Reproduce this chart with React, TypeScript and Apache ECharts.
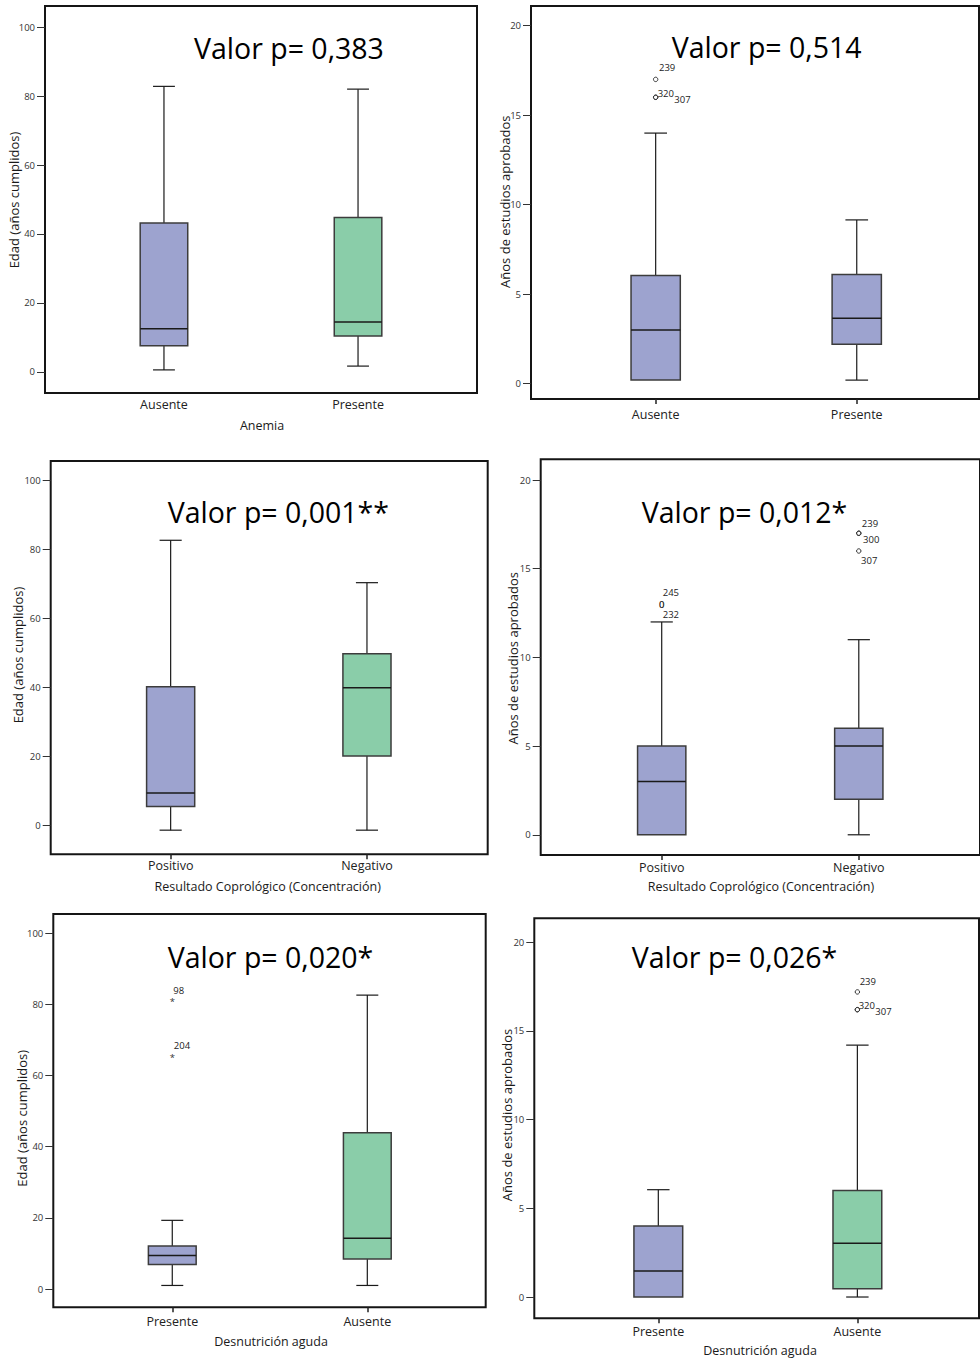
import React, { useEffect, useRef } from "react";
import * as echarts from "echarts";

const FONT = '"Open Sans", "DejaVu Sans", sans-serif';
const BLUE = "#9da3cf";
const GREEN = "#8acda9";

// ---- categories ----
const catsAnemia = ["Ausente", "Presente"];
const catsCopro = ["Positivo", "Negativo"];
const catsDesnut = ["Presente", "Ausente"];

// ---- y tick values ----
const ticksEdad = [0, 20, 40, 60, 80, 100];
const ticksAnios = [0, 5, 10, 15, 20];

// ---- box statistics: [min, Q1, median, Q3, max] per category ----
const edadAnemia = [
  [0.6, 7.6, 12.5, 43.2, 82.8],
  [1.7, 10.4, 14.5, 44.8, 82.0],
];
const aniosAnemia = [
  [0.2, 0.2, 3.0, 6.05, 14.0],
  [0.2, 2.2, 3.65, 6.1, 9.15],
];
const edadCopro = [
  [-1.5, 5.4, 9.3, 40.1, 82.6],
  [-1.5, 20.0, 39.8, 49.7, 70.3],
];
const aniosCopro = [
  [0, 0, 3.0, 5.0, 12.0],
  [0, 2.0, 5.0, 6.0, 11.0],
];
const edadDesnut = [
  [1.0, 6.9, 9.4, 12.1, 19.3],
  [1.0, 8.4, 14.25, 43.9, 82.6],
];
const aniosDesnut = [
  [0, 0, 1.47, 4.0, 6.05],
  [0, 0.47, 3.03, 6.0, 14.2],
];

// ---- outliers: [category index, value] with case ids and marker glyphs ----
const aniosAnemiaOut = [[0, 17], [0, 16], [0, 16]];
const aniosAnemiaOutIds = ["239", "320", "307"];
const aniosAnemiaOutMark = ["o", "o", "o"];

const aniosCoproOut = [[0, 13], [0, 13], [1, 17], [1, 17], [1, 16]];
const aniosCoproOutIds = ["245", "232", "239", "300", "307"];
const aniosCoproOutMark = ["0", "0", "o", "o", "o"];

const edadDesnutOut = [[0, 81.4], [0, 65.7]];
const edadDesnutOutIds = ["98", "204"];
const edadDesnutOutMark = ["*", "*"];

const aniosDesnutOut = [[1, 17.2], [1, 16.2], [1, 16.2]];
const aniosDesnutOutIds = ["239", "320", "307"];
const aniosDesnutOutMark = ["o", "o", "o"];

// ---- panel layout (positions / styles) ----
type Panel = {
  title: string;
  cats: string[];
  stats: number[][];
  ticks: number[];
  yName: string;
  xName: string | null;
  out: number[][];
  outIds: string[];
  outMark: string[];
  labelOff: number[][];
  colors: string[];
  frame: number[]; // left, top, right, bottom
  yRange: number[];
  xRange: number[];
  titleXY: number[];
  yNameXY: number[];
  xNameXY: number[] | null;
  labelMargin: number;
  xTicks: boolean;
};

const panels: Panel[] = [
  {
    title: "Valor p= 0,383", cats: catsAnemia, stats: edadAnemia, ticks: ticksEdad,
    yName: "Edad (años cumplidos)", xName: "Anemia",
    out: [], outIds: [], outMark: [], labelOff: [],
    colors: [BLUE, GREEN],
    frame: [45, 6, 477, 393], yRange: [-6.1, 106.1], xRange: [-0.613, 1.613],
    titleXY: [194, 48], yNameXY: [14, 200], xNameXY: [262, 425], labelMargin: 5, xTicks: false,
  },
  {
    title: "Valor p= 0,514", cats: catsAnemia, stats: aniosAnemia, ticks: ticksAnios,
    yName: "Años de estudios aprobados", xName: null,
    out: aniosAnemiaOut, outIds: aniosAnemiaOutIds, outMark: aniosAnemiaOutMark,
    labelOff: [[3.3, -12.3], [2, -4], [18.7, 2.6]],
    colors: [BLUE, BLUE],
    frame: [531, 6, 979, 399], yRange: [-0.855, 21.1], xRange: [-0.62, 1.608],
    titleXY: [671.7, 46.7], yNameXY: [505, 201.7], xNameXY: null, labelMargin: 8.5, xTicks: true,
  },
  {
    title: "Valor p= 0,001**", cats: catsCopro, stats: edadCopro, ticks: ticksEdad,
    yName: "Edad (años cumplidos)", xName: "Resultado Coprológico (Concentración)",
    out: [], outIds: [], outMark: [], labelOff: [],
    colors: [BLUE, GREEN],
    frame: [50.7, 461, 487.7, 854.3], yRange: [-8.5, 105.6], xRange: [-0.611, 1.615],
    titleXY: [167.7, 511.7], yNameXY: [18.3, 655], xNameXY: [267.7, 886.7], labelMargin: 4.5, xTicks: true,
  },
  {
    title: "Valor p= 0,012*", cats: catsCopro, stats: aniosCopro, ticks: ticksAnios,
    yName: "Años de estudios aprobados", xName: "Resultado Coprológico (Concentración)",
    out: aniosCoproOut, outIds: aniosCoproOutIds, outMark: aniosCoproOutMark,
    labelOff: [[1, -11.6], [1, 10], [3, -9.4], [4.3, 6.6], [2.3, 10]],
    colors: [BLUE, BLUE],
    frame: [540.7, 459.3, 982, 855], yRange: [-1.14, 21.17], xRange: [-0.614, 1.615],
    titleXY: [641.7, 511.7], yNameXY: [512.7, 658.3], xNameXY: [761, 886.7], labelMargin: 5.5, xTicks: true,
  },
  {
    title: "Valor p= 0,020*", cats: catsDesnut, stats: edadDesnut, ticks: ticksEdad,
    yName: "Edad (años cumplidos)", xName: "Desnutrición aguda",
    out: edadDesnutOut, outIds: edadDesnutOutIds, outMark: edadDesnutOutMark,
    labelOff: [[1, -8.6], [1.6, -9.7]],
    colors: [BLUE, GREEN],
    frame: [53.3, 914, 485.7, 1307.3], yRange: [-5.14, 105.4], xRange: [-0.61, 1.607],
    titleXY: [167.7, 956.7], yNameXY: [22.3, 1118.3], xNameXY: [271, 1341.7], labelMargin: 7.5, xTicks: true,
  },
  {
    title: "Valor p= 0,026*", cats: catsDesnut, stats: aniosDesnut, ticks: ticksAnios,
    yName: "Años de estudios aprobados", xName: "Desnutrición aguda",
    out: aniosDesnutOut, outIds: aniosDesnutOutIds, outMark: aniosDesnutOutMark,
    labelOff: [[2.3, -10.6], [1.3, -4.3], [18, 2.3]],
    colors: [BLUE, GREEN],
    frame: [534.3, 918.3, 979, 1318.3], yRange: [-1.2, 21.35], xRange: [-0.623, 1.611],
    titleXY: [631.7, 956.7], yNameXY: [506.7, 1115], xNameXY: [760, 1350.7], labelMargin: 7, xTicks: true,
  },
];

const BOX_HALF = 0.1225; // half box width in category units

function boxRenderer(colors: string[]) {
  return (params: any, api: any) => {
    const x = api.value(0);
    const mn = api.value(1);
    const q1 = api.value(2);
    const md = api.value(3);
    const q3 = api.value(4);
    const mx = api.value(5);
    const cx = api.coord([x, md])[0];
    const left = api.coord([x - BOX_HALF, q3])[0];
    const right = api.coord([x + BOX_HALF, q3])[0];
    const yMn = api.coord([x, mn])[1];
    const yQ1 = api.coord([x, q1])[1];
    const yMd = api.coord([x, md])[1];
    const yQ3 = api.coord([x, q3])[1];
    const yMx = api.coord([x, mx])[1];
    const cap = (right - left) * 0.23;
    const lineStyle = { stroke: "#1a1a1a", lineWidth: 1.2 };
    const children: any[] = [];
    if (mx > q3) {
      children.push({ type: "line", shape: { x1: cx, y1: yQ3, x2: cx, y2: yMx }, style: lineStyle });
      children.push({ type: "line", shape: { x1: cx - cap, y1: yMx, x2: cx + cap, y2: yMx }, style: lineStyle });
    }
    if (mn < q1) {
      children.push({ type: "line", shape: { x1: cx, y1: yQ1, x2: cx, y2: yMn }, style: lineStyle });
      children.push({ type: "line", shape: { x1: cx - cap, y1: yMn, x2: cx + cap, y2: yMn }, style: lineStyle });
    }
    children.push({
      type: "rect",
      shape: { x: left, y: yQ3, width: right - left, height: yQ1 - yQ3 },
      style: { fill: colors[params.dataIndex], stroke: "#3c3c3c", lineWidth: 1.5 },
    });
    children.push({
      type: "line",
      shape: { x1: left, y1: yMd, x2: right, y2: yMd },
      style: { stroke: "#1a1a1a", lineWidth: 1.5 },
    });
    return { type: "group", children };
  };
}

function outlierRenderer(marks: string[], ids: string[], offs: number[][]) {
  return (params: any, api: any) => {
    const i = params.dataIndex;
    const p = api.coord([api.value(0), api.value(1)]);
    const children: any[] = [];
    const m = marks[i];
    if (m === "o") {
      children.push({
        type: "circle",
        shape: { cx: p[0], cy: p[1], r: 2.2 },
        style: { fill: "none", stroke: "#333", lineWidth: 1 },
      });
    } else {
      children.push({
        type: "text",
        x: p[0],
        y: m === "*" ? p[1] + 2.5 : p[1],
        style: {
          text: m,
          fill: "#333",
          font: `9.5px ${FONT}`,
          textAlign: "center",
          textVerticalAlign: "middle",
        },
      });
    }
    children.push({
      type: "text",
      x: p[0] + offs[i][0],
      y: p[1] + offs[i][1],
      style: {
        text: ids[i],
        fill: "#222",
        font: `9.5px ${FONT}`,
        textAlign: "left",
        textVerticalAlign: "middle",
      },
    });
    return { type: "group", children };
  };
}

function buildOption() {
  const grid: any[] = [];
  const xAxis: any[] = [];
  const yAxis: any[] = [];
  const series: any[] = [];
  const graphic: any[] = [];

  panels.forEach((p, k) => {
    const [l, t, r, b] = p.frame;
    grid.push({
      left: l, top: t, width: r - l, height: b - t,
      show: true, borderColor: "#151515", borderWidth: 2, backgroundColor: "transparent",
      containLabel: false,
    });
    xAxis.push({
      type: "value", gridIndex: k, min: p.xRange[0], max: p.xRange[1],
      position: "bottom",
      axisLine: { show: false, onZero: false },
      splitLine: { show: false },
      axisTick: { show: p.xTicks, customValues: [0, 1], length: 5, lineStyle: { color: "#222", width: 1.5 } },
      axisLabel: {
        customValues: [0, 1],
        formatter: (v: number) => p.cats[Math.round(v)] ?? "",
        fontFamily: FONT, fontSize: 12.5, color: "#222", margin: p.labelMargin,
      },
    });
    yAxis.push({
      type: "value", gridIndex: k, min: p.yRange[0], max: p.yRange[1],
      position: "left",
      axisLine: { show: false, onZero: false },
      splitLine: { show: false },
      axisTick: { show: true, customValues: p.ticks, length: 8, lineStyle: { color: "#333", width: 1 } },
      axisLabel: {
        customValues: p.ticks,
        fontFamily: FONT, fontSize: 9.5, color: "#333", margin: 10,
      },
    });
    series.push({
      type: "custom",
      xAxisIndex: k, yAxisIndex: k,
      renderItem: boxRenderer(p.colors),
      encode: { x: 0, y: [1, 2, 3, 4, 5] },
      data: p.stats.map((s, i) => [i, ...s]),
      silent: true,
    });
    if (p.out.length) {
      series.push({
        type: "custom",
        xAxisIndex: k, yAxisIndex: k,
        renderItem: outlierRenderer(p.outMark, p.outIds, p.labelOff),
        encode: { x: 0, y: 1 },
        data: p.out,
        silent: true,
      });
    }
    graphic.push({
      type: "text", x: p.titleXY[0], y: p.titleXY[1],
      style: {
        text: p.title, fill: "#000", font: `28.5px ${FONT}`,
        textAlign: "left", textVerticalAlign: "middle",
      },
    });
    graphic.push({
      type: "text", x: p.yNameXY[0], y: p.yNameXY[1], rotation: Math.PI / 2,
      style: {
        text: p.yName, fill: "#1a1a1a", font: `13px ${FONT}`,
        textAlign: "center", textVerticalAlign: "middle",
      },
    });
    if (p.xName && p.xNameXY) {
      graphic.push({
        type: "text", x: p.xNameXY[0], y: p.xNameXY[1],
        style: {
          text: p.xName, fill: "#1a1a1a", font: `12.5px ${FONT}`,
          textAlign: "center", textVerticalAlign: "middle",
        },
      });
    }
  });

  return {
    animation: false,
    backgroundColor: "#ffffff",
    grid, xAxis, yAxis, series, graphic,
  };
}

export default function App() {
  const ref = useRef<HTMLDivElement>(null);
  useEffect(() => {
    if (!ref.current) return;
    const chart = echarts.init(ref.current, undefined, { renderer: "svg" });
    chart.setOption(buildOption() as any);
    return () => chart.dispose();
  }, []);
  return (
    <div
      ref={ref}
      style={{ position: "absolute", left: 0, top: 0, width: 980, height: 1358, background: "#fff" }}
    />
  );
}
